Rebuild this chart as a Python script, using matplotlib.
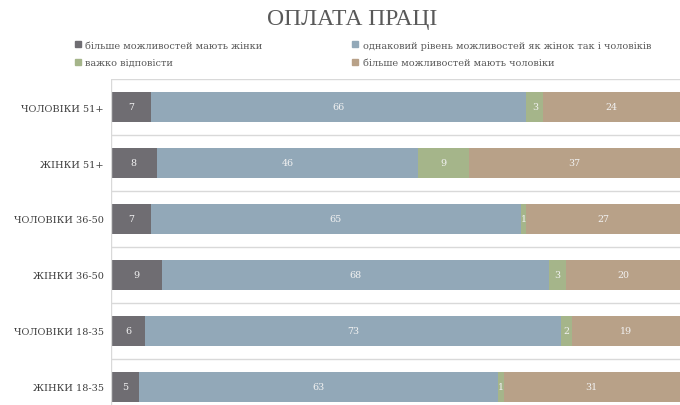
import matplotlib.pyplot as plt
import numpy as np
from matplotlib.patches import Patch

categories = ["ЧОЛОВІКИ 51+", "ЖІНКИ 51+", "ЧОЛОВІКИ 36-50",
              "ЖІНКИ 36-50", "ЧОЛОВІКИ 18-35", "ЖІНКИ 18-35"]
series_names = ["більше можливостей мають жінки",
                "однаковий рівень можливостей як жінок так і чоловіків",
                "важко відповісти",
                "більше можливостей мають чоловіки"]
women_more = [7, 8, 7, 9, 6, 5]
equal = [66, 46, 65, 68, 73, 63]
hard_to_say = [3, 9, 1, 3, 2, 1]
men_more = [24, 37, 27, 20, 19, 31]

colors = ["#6f6d72", "#92a8b8", "#a5b58a", "#b8a188"]
serif = ["DejaVu Serif"]

fig = plt.figure(figsize=(6.8, 4.06), dpi=100)
ax = fig.add_axes([111 / 680, -10 / 406, 569 / 680, 336 / 406])

y = np.arange(len(categories))
left = np.zeros(len(categories))
for vals, col in zip([women_more, equal, hard_to_say, men_more], colors):
    vals = np.array(vals)
    ax.barh(y, vals, left=left, height=0.55, color=col)
    for yi, l, v in zip(y, left, vals):
        ax.text(l + v / 2, yi, str(v), ha="center", va="center",
                color="#f2f2f2", fontsize=6.8, family=serif)
    left += vals

ax.set_xlim(0, 100)
ax.set_ylim(5.5, -0.5)
for b in np.arange(-0.5, 6, 1):
    ax.axhline(b, color="#d9d9d9", lw=1, zorder=0)
for s in ax.spines.values():
    s.set_visible(False)
ax.axvline(0, color="#d9d9d9", lw=1)
ax.set_xticks([])
ax.set_yticks(y)
ax.set_yticklabels(categories, family=serif, fontsize=7, color="#404040")
ax.tick_params(axis="y", length=0, pad=5)

fig.text(352 / 680, 1 - 19 / 406, "ОПЛАТА ПРАЦІ", ha="center", va="center",
         fontsize=17, color="#595959", family=["Liberation Serif"])

# row-wise legend order
order = [0, 2, 1, 3]
handles = [Patch(color=colors[i]) for i in order]
labels = [series_names[i] for i in order]
fig.legend(handles, labels, ncol=2, loc="upper left",
           bbox_to_anchor=(66 / 680, 1 - 33 / 406), frameon=False,
           prop={"family": serif, "size": 7}, labelcolor="#595959",
           handlelength=0.6, handleheight=0.6, handletextpad=0.5,
           columnspacing=9.2, labelspacing=0.85)

fig.savefig("out.png", dpi=100)
